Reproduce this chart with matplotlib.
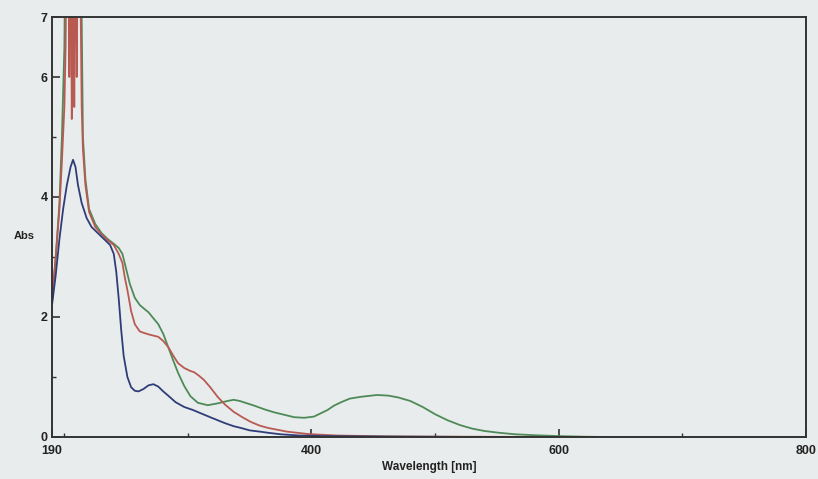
import matplotlib
matplotlib.use("Agg")
import matplotlib.pyplot as plt
from matplotlib.ticker import FixedLocator

# UV-Vis spectra (wavelength nm, absorbance)
blue_wl = [190, 193, 196, 199, 202, 205, 207, 209, 211, 214, 218, 222, 227, 232, 237, 240,
           242, 244, 246, 248, 251, 254, 257, 260, 264, 268, 272, 276, 280, 284, 290, 297,
           304, 311, 318, 324, 330, 337, 343, 350, 358, 365, 375, 390, 410, 440, 480, 540]
blue_abs = [2.2, 2.7, 3.3, 3.8, 4.2, 4.5, 4.62, 4.5, 4.2, 3.9, 3.65, 3.5, 3.4, 3.3, 3.2, 3.05,
            2.75, 2.3, 1.78, 1.35, 1.0, 0.83, 0.77, 0.76, 0.8, 0.86, 0.88, 0.84, 0.76, 0.69, 0.58, 0.5,
            0.45, 0.39, 0.33, 0.28, 0.23, 0.18, 0.15, 0.11, 0.09, 0.07, 0.045, 0.025, 0.015, 0.01, 0.005, 0.0]

red_wl = [190, 193, 196, 198, 200, 201, 202, 203, 204, 205, 206, 207, 208, 209, 210, 211,
          212, 213, 214, 215, 217, 220, 225, 230, 235, 240, 244, 247, 249, 251, 254, 257,
          261, 265, 270, 276, 280, 284, 288, 292, 297, 302, 305, 309, 313, 318, 324, 330,
          337, 344, 351, 358, 365, 370, 380, 397, 420, 460, 520, 600, 800]
red_abs = [2.3, 3.0, 3.8, 4.6, 5.5, 6.5, 9, 9, 6.0, 9, 5.3, 9, 5.5, 9, 6.0, 9,
           9, 7.5, 5.5, 4.8, 4.2, 3.75, 3.5, 3.38, 3.28, 3.2, 3.05, 2.9, 2.65, 2.45, 2.1, 1.88,
           1.76, 1.73, 1.7, 1.67, 1.6, 1.5, 1.36, 1.23, 1.15, 1.1, 1.08, 1.02, 0.95, 0.83, 0.67, 0.54,
           0.42, 0.33, 0.25, 0.19, 0.15, 0.13, 0.09, 0.05, 0.025, 0.01, 0.005, 0.0, 0.0]

green_wl = [190, 193, 196, 198, 200, 201, 213, 215, 217, 220, 225, 230, 235, 240, 244, 247,
            250, 253, 257, 261, 265, 268, 272, 276, 280, 284, 288, 292, 297, 302, 308, 316,
            324, 332, 337, 342, 348, 354, 362, 370, 378, 386, 394, 402, 413, 418, 424, 431,
            440, 453, 462, 470, 480, 490, 500, 510, 520, 530, 540, 552, 565, 580, 600, 620, 640]
green_abs = [2.25, 3.0, 3.9, 5.0, 6.5, 9, 9, 5.0, 4.3, 3.8, 3.55, 3.4, 3.3, 3.22, 3.15, 3.05,
             2.8, 2.55, 2.32, 2.2, 2.13, 2.08, 1.98, 1.88, 1.72, 1.5, 1.28, 1.07, 0.85, 0.68, 0.57, 0.53,
             0.56, 0.6, 0.62, 0.6, 0.56, 0.52, 0.46, 0.41, 0.37, 0.33, 0.32, 0.34, 0.45, 0.52, 0.58, 0.64,
             0.67, 0.70, 0.69, 0.66, 0.6, 0.5, 0.38, 0.28, 0.2, 0.14, 0.1, 0.07, 0.045, 0.03, 0.015, 0.005, 0.0]

x_major = [400, 600, 800]
x_minor = [200, 300, 500, 700]
y_major = [0, 2, 4, 6, 7]
y_minor = [1, 3, 5]

plt.rcParams["font.family"] = ["Liberation Sans", "DejaVu Sans"]
bg = "#e9ecec"
fig = plt.figure(figsize=(8.18, 4.79), dpi=100, facecolor=bg)
ax = fig.add_axes([0.0636, 0.0877, 0.9214, 0.8768])
ax.set_facecolor(bg)

ax.plot(green_wl, green_abs, color="#4e8a58", lw=1.3)
ax.plot(red_wl, red_abs, color="#b85a52", lw=1.3)
ax.plot(blue_wl, blue_abs, color="#2e3d78", lw=1.3)

ax.set_xlim(190, 800)
ax.set_ylim(0, 7)

for s in ax.spines.values():
    s.set_color("#333333")
    s.set_linewidth(1.4)

ax.xaxis.set_major_locator(FixedLocator([190] + x_major))
ax.xaxis.set_minor_locator(FixedLocator(x_minor))
ax.set_xticklabels(["190"] + [str(v) for v in x_major])
ax.yaxis.set_major_locator(FixedLocator(y_major))
ax.yaxis.set_minor_locator(FixedLocator(y_minor))
ax.set_yticklabels([str(v) for v in y_major])

ax.tick_params(axis="both", which="major", direction="in", length=6, width=1.2,
               color="#333333", labelsize=9)
ax.tick_params(axis="x", which="major", pad=6)
ax.tick_params(axis="y", which="major", pad=3)
ax.tick_params(axis="both", which="minor", direction="in", length=3, width=1.0, color="#333333")
for lab in ax.get_xticklabels() + ax.get_yticklabels():
    lab.set_fontweight("bold")
    lab.set_color("#222222")

ax.set_xlabel("Wavelength [nm]", fontsize=8.5, fontweight="bold", color="#222222", labelpad=3)
fig.text(0.029, 0.507, "Abs", fontsize=8, fontweight="bold", color="#222222",
         ha="center", va="center")

fig.savefig("out.png", dpi=100, facecolor=bg)
